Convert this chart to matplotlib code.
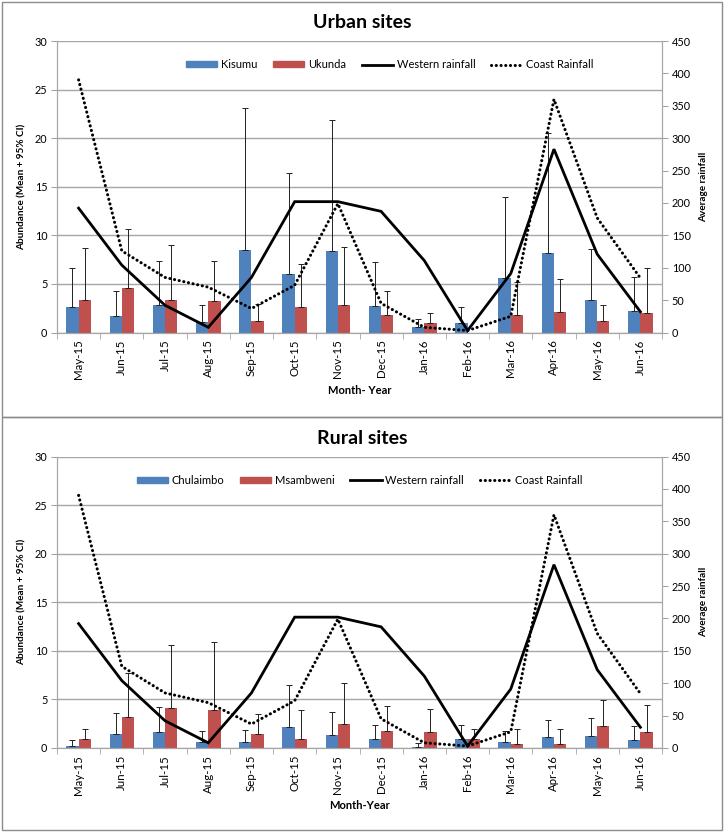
import numpy as np
import matplotlib
matplotlib.use('Agg')
import matplotlib.pyplot as plt
from matplotlib.patches import Rectangle, Patch
from matplotlib.lines import Line2D

plt.rcParams['font.family'] = ['Lato', 'DejaVu Sans']

months = ['May-15', 'Jun-15', 'Jul-15', 'Aug-15', 'Sep-15', 'Oct-15', 'Nov-15',
          'Dec-15', 'Jan-16', 'Feb-16', 'Mar-16', 'Apr-16', 'May-16', 'Jun-16']

# rainfall (right axis), same in both panels
western = [192, 104, 42, 8, 85, 202, 202, 187, 111, 3, 91, 283, 121, 32]
coast = [390, 126, 85, 70, 37, 73, 199, 45, 8, 3, 25, 360, 177, 84]

# urban sites: mean and upper 95% CI
kisumu = [2.6, 1.65, 2.85, 1.07, 8.5, 6.05, 8.4, 2.7, 0.52, 0.93, 5.6, 8.2, 3.39, 2.25]
kisumu_ci = [6.65, 4.3, 7.4, 2.78, 23.1, 16.4, 21.9, 7.25, 1.42, 2.63, 13.9, 20.5, 8.6, 5.74]
ukunda = [3.3, 4.54, 3.37, 3.2, 1.2, 2.6, 2.8, 1.8, 0.97, np.nan, 1.76, 2.15, 1.21, 1.97]
ukunda_ci = [8.7, 10.7, 9.04, 7.4, 2.9, 7.0, 8.8, 4.3, 2.0, np.nan, 5.16, 5.54, 2.8, 6.68]

# rural sites
chulaimbo = [0.24, 1.47, 1.64, 0.65, 0.65, 2.12, 1.34, 0.92, 0.14, 0.92, 0.65, 1.13, 1.27, 0.86]
chulaimbo_ci = [0.86, 3.63, 4.18, 1.78, 1.88, 6.47, 3.66, 2.33, 0.55, 2.4, 1.78, 2.91, 3.08, 2.23]
msambweni = [0.92, 3.18, 4.08, 3.94, 1.47, 0.92, 2.47, 1.71, 1.6, 0.92, 0.45, 0.45, 2.23, 1.68]
msambweni_ci = [1.95, 7.67, 10.6, 10.96, 3.53, 3.94, 6.68, 4.3, 3.97, 1.95, 1.92, 1.92, 4.97, 4.42]

BLUE = '#4F81BD'
RED = '#C0504D'
GRID = '#a6a6a6'
W, H = 725, 832

fig = plt.figure(figsize=(7.25, 8.32), dpi=100)

# panel borders
for y0, y1 in [(2, 417), (417, 830)]:
    fig.patches.append(Rectangle((2 / W, 1 - y1 / H), 720 / W, (y1 - y0) / H,
                                 transform=fig.transFigure, fill=False,
                                 edgecolor='#8c8c8c', lw=1))


def panel(top, title, names, m1, c1, m2, c2, xlab, leg_x):
    bottom = top + 291.5
    ax = fig.add_axes([57 / W, 1 - bottom / H, 605 / W, 291.5 / H])
    x = np.arange(len(months))
    bw = 0.285
    e1 = np.array(c1) - np.array(m1)
    e2 = np.array(c2) - np.array(m2)
    ax.bar(x - bw / 2, m1, bw, color=BLUE, zorder=2)
    ax.bar(x + bw / 2, m2, bw, color=RED, zorder=2)
    ax.errorbar(x - bw / 2, m1, yerr=[np.zeros(len(x)), e1], fmt='none',
                ecolor='#222222', elinewidth=0.7, capsize=2.5, capthick=0.7, zorder=3)
    ax.errorbar(x + bw / 2, m2, yerr=[np.zeros(len(x)), e2], fmt='none',
                ecolor='#222222', elinewidth=0.7, capsize=2.5, capthick=0.7, zorder=3)
    ax.set_xlim(-0.5, len(months) - 0.5)
    ax.set_ylim(0, 30)
    ax.set_yticks(np.arange(0, 31, 5))
    ax.yaxis.grid(True, color=GRID, lw=1, zorder=0)
    ax.set_axisbelow(True)
    ax.set_xticks(x)
    ax.set_xticklabels(months, rotation=90, fontsize=8.3)
    ax.set_xticks(np.arange(-0.5, len(months)), minor=True)
    ax.tick_params(axis='x', which='major', length=0, pad=5)
    ax.tick_params(axis='x', which='minor', length=4, color=GRID)
    ax.tick_params(axis='y', length=4, color=GRID, labelsize=7.8, pad=3)
    ax.spines['top'].set_visible(False)
    for s in ['left', 'bottom', 'right']:
        ax.spines[s].set_color(GRID)
    ax.set_ylabel('Abundance (Mean + 95% CI)', fontsize=7.2, fontweight='bold', labelpad=6)
    ax.set_xlabel(xlab, fontsize=8, fontweight='bold', labelpad=4)

    ax2 = ax.twinx()
    ax2.plot(x, western, color='black', lw=2.0, solid_joinstyle='miter')
    ax2.plot(x, coast, color='black', lw=2.2, linestyle=(0, (0.05, 1.5)),
             dash_capstyle='round')
    ax2.set_ylim(0, 450)
    ax2.set_yticks(np.arange(0, 451, 50))
    ax2.tick_params(axis='y', length=4, color=GRID, labelsize=7.8, pad=3)
    ax2.spines['top'].set_visible(False)
    for s in ['left', 'bottom', 'right']:
        ax2.spines[s].set_color(GRID)
    ax2.set_ylabel('Average rainfall', fontsize=7.2, fontweight='bold', labelpad=6)

    handles = [Patch(color=BLUE), Patch(color=RED),
               Line2D([], [], color='black', lw=2.0),
               Line2D([], [], color='black', lw=2.2, linestyle=(0, (0.05, 1.5)),
                      dash_capstyle='round')]
    ax2.legend(handles, names + ['Western rainfall', 'Coast Rainfall'],
               loc='center', bbox_to_anchor=(leg_x, 0.918), ncol=4, frameon=False,
               fontsize=8, handlelength=2.8, handleheight=0.45, columnspacing=1.4,
               handletextpad=0.35)
    fig.text(362 / W, 1 - (top - 18) / H, title, ha='center', va='center',
             fontsize=14, fontweight='bold')


panel(41, 'Urban sites', ['Kisumu', 'Ukunda'], kisumu, kisumu_ci, ukunda, ukunda_ci,
      'Month- Year', 0.55)
panel(456.5, 'Rural sites', ['Chulaimbo', 'Msambweni'], chulaimbo, chulaimbo_ci,
      msambweni, msambweni_ci, 'Month-Year', 0.5)

fig.savefig('out.png', dpi=100)
